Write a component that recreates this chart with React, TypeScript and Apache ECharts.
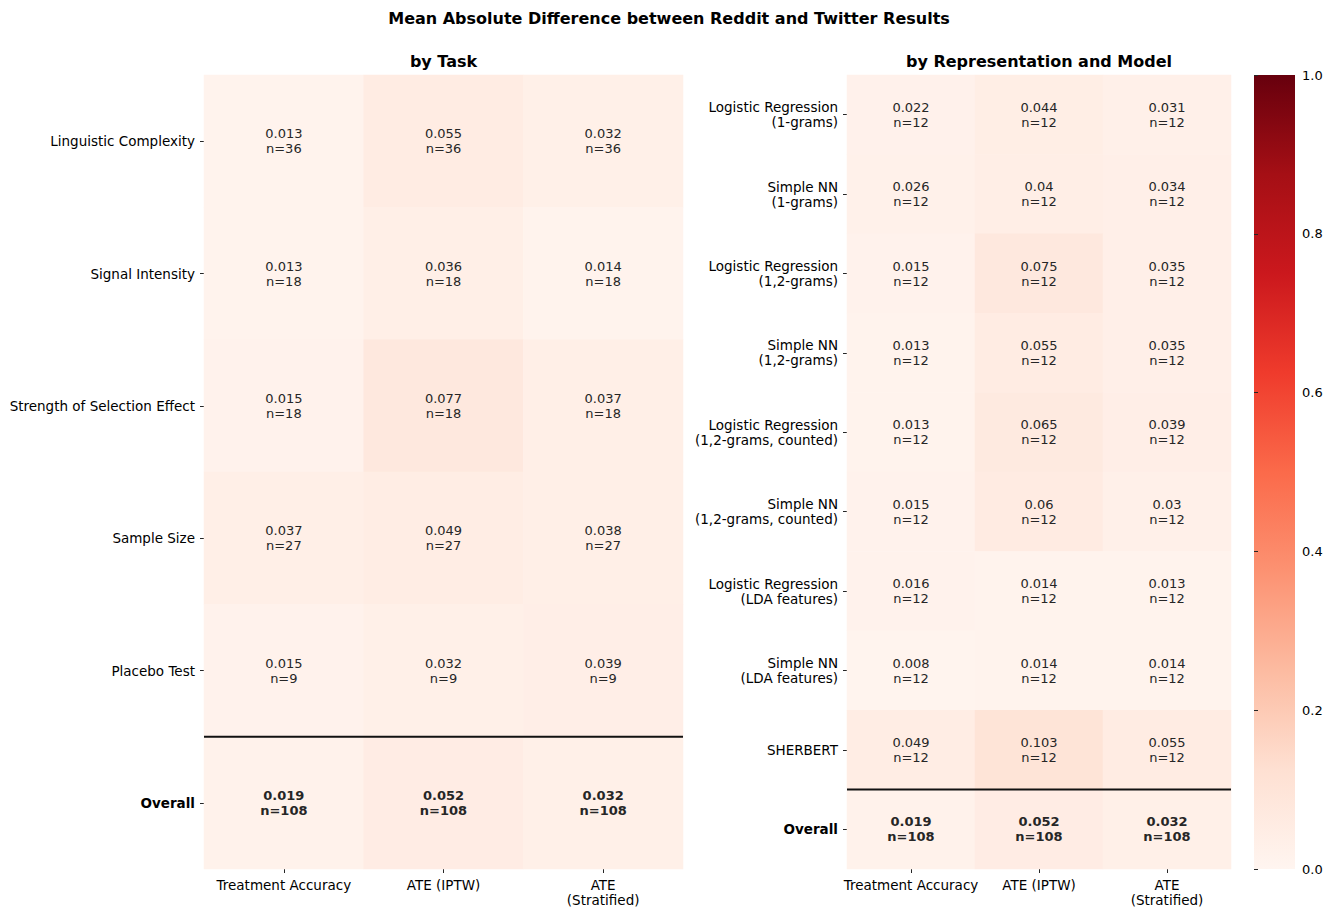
import React, { useEffect, useRef } from "react";
import * as echarts from "echarts";

const columns = ["Treatment Accuracy", "ATE (IPTW)", "ATE\n(Stratified)"];

const taskRows = [
  "Linguistic Complexity",
  "Signal Intensity",
  "Strength of Selection Effect",
  "Sample Size",
  "Placebo Test",
  "Overall",
];
const taskValues = [
  [0.013, 0.055, 0.032],
  [0.013, 0.036, 0.014],
  [0.015, 0.077, 0.037],
  [0.037, 0.049, 0.038],
  [0.015, 0.032, 0.039],
  [0.019, 0.052, 0.032],
];
const taskN = [36, 18, 18, 27, 9, 108];

const modelRows = [
  "Logistic Regression\n(1-grams)",
  "Simple NN\n(1-grams)",
  "Logistic Regression\n(1,2-grams)",
  "Simple NN\n(1,2-grams)",
  "Logistic Regression\n(1,2-grams, counted)",
  "Simple NN\n(1,2-grams, counted)",
  "Logistic Regression\n(LDA features)",
  "Simple NN\n(LDA features)",
  "SHERBERT",
  "Overall",
];
const modelValues = [
  [0.022, 0.044, 0.031],
  [0.026, 0.04, 0.034],
  [0.015, 0.075, 0.035],
  [0.013, 0.055, 0.035],
  [0.013, 0.065, 0.039],
  [0.015, 0.06, 0.03],
  [0.016, 0.014, 0.013],
  [0.008, 0.014, 0.014],
  [0.049, 0.103, 0.055],
  [0.019, 0.052, 0.032],
];
const modelN = [12, 12, 12, 12, 12, 12, 12, 12, 12, 108];

const REDS = [
  "#fff5f0",
  "#fee0d2",
  "#fcbba1",
  "#fc9272",
  "#fb6a4a",
  "#ef3b2c",
  "#cb181d",
  "#a50f15",
  "#67000d",
];

const FONT = "DejaVu Sans";
const TEXT = "#262626";
const TICK_FS = 13.5;

// page has an 8px body margin; positions below are relative to the chart div
const G1 = { left: 196, top: 67, width: 479, height: 794 };
const G2 = { left: 839, top: 67, width: 384, height: 794 };
const G3 = { left: 1246, top: 67, width: 41, height: 794 };

function buildData(rows: string[], values: number[][], ns: number[]) {
  const out: any[] = [];
  rows.forEach((r, ri) => {
    values[ri].forEach((v, ci) => {
      const bold = r === "Overall";
      out.push({
        value: [ci, ri, v],
        n: ns[ri],
        label: { fontWeight: bold ? "bold" : "normal" },
      });
    });
  });
  return out;
}

function yAxisFor(rows: string[], gridIndex: number) {
  return {
    type: "category",
    gridIndex,
    data: rows,
    inverse: true,
    axisLine: { show: false },
    axisTick: { show: true, alignWithLabel: true, length: 4, lineStyle: { color: TEXT } },
    axisLabel: {
      margin: 9,
      fontFamily: FONT,
      fontSize: TICK_FS,
      color: "#000",
      lineHeight: 15,
      formatter: (v: string) => (v === "Overall" ? "{b|Overall}" : v),
      rich: { b: { fontWeight: "bold", fontFamily: FONT, fontSize: TICK_FS, color: "#000" } },
    },
    splitLine: { show: false },
  };
}

function xAxisFor(gridIndex: number) {
  return {
    type: "category",
    gridIndex,
    data: columns,
    axisLine: { show: false },
    axisTick: { show: true, alignWithLabel: true, length: 4, lineStyle: { color: TEXT } },
    axisLabel: {
      margin: 8,
      fontFamily: FONT,
      fontSize: TICK_FS,
      color: "#000",
      lineHeight: 15,
      interval: 0,
    },
    splitLine: { show: false },
  };
}

const cellLabel = {
  show: true,
  fontFamily: FONT,
  fontSize: 13,
  color: TEXT,
  lineHeight: 15,
  formatter: (p: any) => `${p.value[2]}\nn=${p.data.n}`,
};

const titleStyle = { fontFamily: FONT, fontSize: 16, fontWeight: "bold", color: "#000" };

export default function App() {
  const ref = useRef<HTMLDivElement>(null);

  useEffect(() => {
    if (!ref.current) return;
    const chart = echarts.init(ref.current, null, { renderer: "svg" });
    const option: any = {
      animation: false,
      backgroundColor: "#ffffff",
      title: [
        {
          text: "Mean Absolute Difference between Reddit and Twitter Results",
          left: 661,
          top: 2,
          padding: 0,
          textAlign: "center",
          textStyle: titleStyle,
        },
        {
          text: "by Task",
          left: G1.left + G1.width / 2,
          top: 45,
          padding: 0,
          textAlign: "center",
          textStyle: titleStyle,
        },
        {
          text: "by Representation and Model",
          left: G2.left + G2.width / 2,
          top: 45,
          padding: 0,
          textAlign: "center",
          textStyle: titleStyle,
        },
      ],
      grid: [
        { ...G1, containLabel: false, outerBoundsMode: "none" },
        { ...G2, containLabel: false, outerBoundsMode: "none" },
        { ...G3, containLabel: false, outerBoundsMode: "none" },
      ],
      xAxis: [
        xAxisFor(0),
        xAxisFor(1),
        { type: "value", gridIndex: 2, show: false, min: 0, max: 1 },
      ],
      yAxis: [
        yAxisFor(taskRows, 0),
        yAxisFor(modelRows, 1),
        {
          type: "value",
          gridIndex: 2,
          position: "right",
          min: 0,
          max: 1,
          interval: 0.2,
          axisLine: { show: false },
          axisTick: { show: true, length: 4, lineStyle: { color: TEXT } },
          splitLine: { show: false },
          axisLabel: {
            margin: 7,
            fontFamily: FONT,
            fontSize: 13,
            color: "#000",
            formatter: (v: number) => v.toFixed(1),
          },
        },
      ],
      visualMap: {
        show: false,
        type: "continuous",
        min: 0,
        max: 1,
        dimension: 2,
        seriesIndex: [0, 1],
        inRange: { color: REDS },
      },
      series: [
        {
          type: "heatmap",
          xAxisIndex: 0,
          yAxisIndex: 0,
          data: buildData(taskRows, taskValues, taskN),
          label: cellLabel,
          emphasis: { disabled: true },
          itemStyle: { borderWidth: 0 },
        },
        {
          type: "heatmap",
          xAxisIndex: 1,
          yAxisIndex: 1,
          data: buildData(modelRows, modelValues, modelN),
          label: cellLabel,
          emphasis: { disabled: true },
          itemStyle: { borderWidth: 0 },
        },
      ],
    };
    chart.setOption(option);

    const colorbar = {
      type: "rect",
      shape: { x: G3.left, y: G3.top, width: G3.width, height: G3.height },
      style: {
        fill: {
          type: "linear",
          x: 0,
          y: 1,
          x2: 0,
          y2: 0,
          colorStops: REDS.map((c, i) => ({ offset: i / (REDS.length - 1), color: c })),
        },
      },
      silent: true,
    };

    // separator lines above "Overall", positioned through the axes' scales
    const sep = (gridIdx: number, rows: string[], grid: typeof G1) => {
      const a = chart.convertToPixel({ gridIndex: gridIdx } as any, [0, rows.length - 2]) as number[];
      const b = chart.convertToPixel({ gridIndex: gridIdx } as any, [0, rows.length - 1]) as number[];
      const y = (a[1] + b[1]) / 2;
      return {
        type: "line",
        shape: { x1: grid.left, y1: y, x2: grid.left + grid.width, y2: y },
        style: { stroke: "#111", lineWidth: 2 },
        silent: true,
        z: 100,
      };
    };
    chart.setOption({
      graphic: [colorbar, sep(0, taskRows, G1), sep(1, modelRows, G2)],
    });

    return () => chart.dispose();
  }, []);

  return <div ref={ref} style={{ width: 1321, height: 901 }} />;
}
